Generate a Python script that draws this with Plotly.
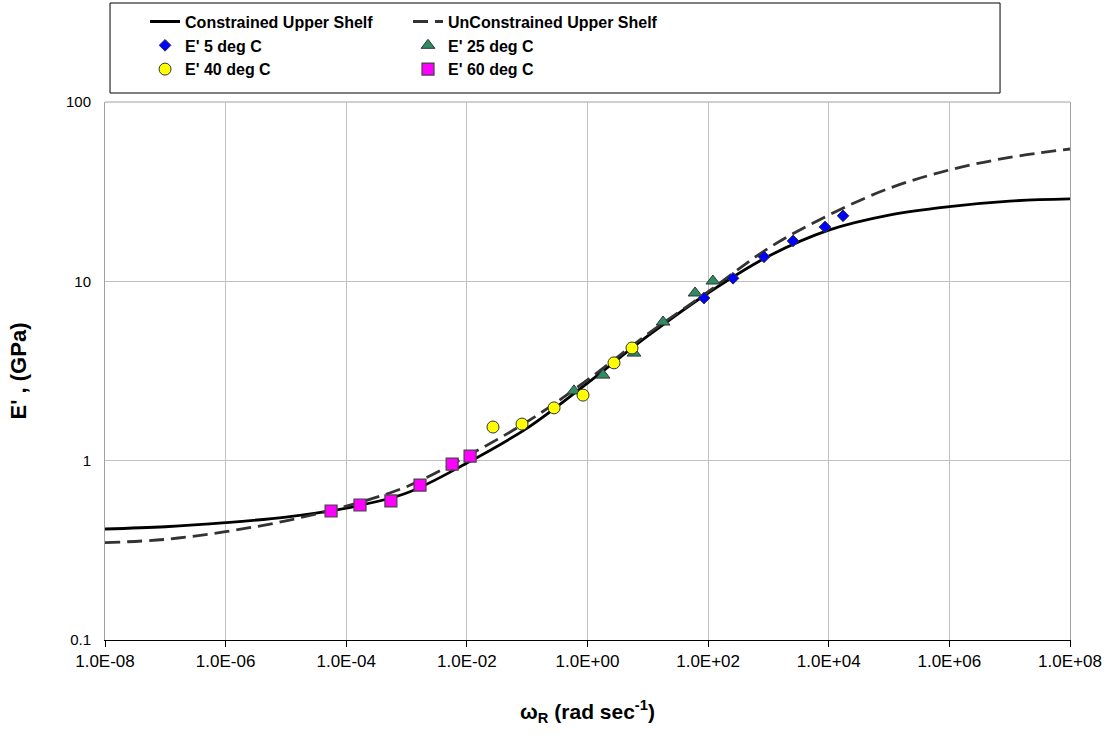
import plotly.graph_objects as go

# ---- data ----
curve_w = [1e-8, 1e-7, 1e-6, 1e-5, 1e-4, 1e-3, 1e-2, 1e-1, 1e0, 1e1, 1e2, 1e3, 1e4, 1e5, 1e6, 1e7, 1e8]
constrained_E = [0.416, 0.428, 0.451, 0.485, 0.544, 0.66, 0.97, 1.52, 2.71, 4.96, 8.61, 13.8, 19.3, 23.4, 26.1, 28.0, 28.8]
unconstrained_E = [0.349, 0.364, 0.402, 0.462, 0.558, 0.716, 1.06, 1.65, 2.82, 5.09, 8.75, 15.3, 23.4, 33.0, 41.8, 49.1, 54.7]

w_5C = [85.5, 259, 845, 2558, 8670, 17260]
E_5C = [8.07, 10.4, 13.7, 16.8, 20.1, 23.2]

w_25C = [0.597, 1.81, 5.9, 17.9, 60.7, 120]
E_25C = [2.45, 3.00, 3.98, 5.93, 8.61, 10.04]

w_40C = [0.0271, 0.082, 0.279, 0.843, 2.75, 5.47]
E_40C = [1.54, 1.60, 1.97, 2.32, 3.51, 4.25]

w_60C = [5.6e-5, 1.69e-4, 5.5e-4, 1.67e-3, 5.7e-3, 1.13e-2]
E_60C = [0.524, 0.566, 0.596, 0.731, 0.957, 1.06]

x_tickvals = [1e-8, 1e-6, 1e-4, 1e-2, 1e0, 1e2, 1e4, 1e6, 1e8]
x_ticktext = ["1.0E-08", "1.0E-06", "1.0E-04", "1.0E-02", "1.0E+00", "1.0E+02", "1.0E+04", "1.0E+06", "1.0E+08"]
y_tickvals = [0.1, 1, 10, 100]
y_ticktext = ["0.1", "1", "10", "100"]

FONT = "Liberation Sans, Arial, sans-serif"

fig = go.Figure()
fig.add_trace(go.Scatter(x=curve_w, y=constrained_E, mode="lines", name="Constrained Upper Shelf",
                         legend="legend",
                         line=dict(color="black", width=2.8, shape="spline")))
fig.add_trace(go.Scatter(x=curve_w, y=unconstrained_E, mode="lines", name="UnConstrained Upper Shelf",
                         legend="legend2",
                         line=dict(color="#333333", width=2.8, dash="15px,7px", shape="spline")))
fig.add_trace(go.Scatter(x=w_5C, y=E_5C, mode="markers", name="E' 5 deg C", legend="legend",
                         marker=dict(symbol="diamond", size=9, color="#0000FF",
                                     line=dict(color="#333333", width=1))))
fig.add_trace(go.Scatter(x=w_25C, y=E_25C, mode="markers", name="E' 25 deg C", legend="legend2",
                         marker=dict(symbol="triangle-up", size=12, color="#2E8B62",
                                     line=dict(color="#333333", width=1))))
fig.add_trace(go.Scatter(x=w_40C, y=E_40C, mode="markers", name="E' 40 deg C", legend="legend",
                         marker=dict(symbol="circle", size=12, color="#FFFF00",
                                     line=dict(color="#333333", width=1))))
fig.add_trace(go.Scatter(x=w_60C, y=E_60C, mode="markers", name="E' 60 deg C", legend="legend2",
                         marker=dict(symbol="square", size=12, color="#FF00FF",
                                     line=dict(color="#444444", width=1.2))))

shapes = [
    # legend box
    dict(type="rect", xref="paper", yref="paper", x0=0.0052, x1=0.9275, y0=1.0167, y1=1.184,
         line=dict(color="black", width=1), fillcolor="rgba(0,0,0,0)"),
    # top frame line
    dict(type="line", xref="paper", yref="paper", x0=0, x1=1, y0=1, y1=1,
         line=dict(color="#a0a0a0", width=1), layer="below"),
    # value axis crossing at 1
    dict(type="line", xref="x", yref="y", x0=1, x1=1, y0=0.1, y1=100,
         line=dict(color="black", width=1), layer="below"),
]
for yv in y_tickvals:
    shapes.append(dict(type="line", xref="x", yref="y", xsizemode="pixel", xanchor=1,
                       x0=-6, x1=0, y0=yv, y1=yv, line=dict(color="black", width=1)))

legend_common = dict(orientation="v", xanchor="left", y=1.181, yanchor="top",
                     font=dict(family=FONT, size=16, color="black", weight="bold"),
                     bgcolor="rgba(0,0,0,0)", borderwidth=0, tracegroupgap=0, itemwidth=30)

fig.update_layout(
    width=1118, height=738,
    margin=dict(l=105, r=48, t=102, b=98, autoexpand=False),
    paper_bgcolor="white", plot_bgcolor="white",
    font=dict(family=FONT, color="black", size=14),
    showlegend=True,
    legend=dict(x=0.0415, **legend_common),
    legend2=dict(x=0.314, **legend_common),
    shapes=shapes,
    xaxis=dict(type="log", range=[-8, 8], tickvals=x_tickvals, ticktext=x_ticktext,
               showgrid=True, gridcolor="#c0c0c0", gridwidth=1,
               showline=True, linecolor="black", linewidth=1,
               ticks="outside", ticklen=6, tickcolor="black",
               tickfont=dict(size=17), zeroline=False,
               title=dict(text="ω<sub>R</sub> (rad sec<sup>-1</sup>)",
                          font=dict(size=21, weight="bold"), standoff=33)),
    yaxis=dict(type="log", range=[-1, 2], tickvals=y_tickvals, ticktext=y_ticktext,
               showgrid=True, gridcolor="#c0c0c0", gridwidth=1,
               showline=True, linecolor="#a0a0a0", linewidth=1, mirror=True,
               ticks="", tickfont=dict(size=15), ticklabelstandoff=10, zeroline=False,
               title=dict(text="E' , (GPa)", font=dict(size=22, weight="bold"), standoff=33)),
)

fig.write_html("out.html")
